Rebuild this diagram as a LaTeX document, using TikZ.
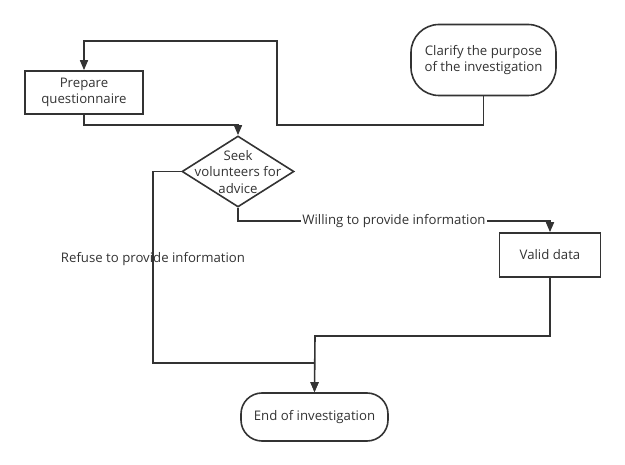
\documentclass[tikz,border=0pt]{standalone}
\usepackage{fontspec}
\setmainfont{Open Sans}
\usetikzlibrary{shapes.geometric,arrows.meta}
\definecolor{ln}{HTML}{333333}
\tikzset{
  x=1pt,y=-1pt,
  every node/.style={font=\fontsize{13.2}{16.5}\selectfont, text=ln},
  box/.style={draw=ln, line width=1.6pt, minimum width=118pt, minimum height=43pt, align=center, inner sep=0pt},
  term/.style={draw=ln, line width=1.6pt, rounded corners=28pt, align=center, inner sep=0pt},
  dia/.style={draw=ln, line width=1.6pt, diamond, minimum width=112pt, minimum height=71pt, inner sep=0pt},
  conn/.style={draw=ln, line width=1.6pt},
  arr/.style={conn, -{Triangle[length=10pt,width=8pt]}},
  lbl/.style={fill=white, inner sep=1pt},
}
\begin{document}
\begin{tikzpicture}
\useasboundingbox (0,0) rectangle (625,465);
\node[box] (prep) at (84,92.5) {Prepare\\questionnaire};
\node[term, minimum width=145pt, minimum height=71pt] (clar) at (483.5,60) {Clarify the purpose\\of the investigation};
\node[dia] (seek) at (238,171.5) {};
\node[align=center, inner sep=0pt] (seektxt) at (238,172) {Seek\\volunteers for\\advice};
\node[box, minimum width=101pt, minimum height=44pt] (valid) at (550,255) {Valid data};
\node[term, minimum width=147pt, minimum height=48pt, rounded corners=21pt] (end) at (314.5,417) {End of investigation};

\coordinate (c1) at (277,125);
\coordinate (c2) at (277,41);
\coordinate (c4) at (153,363);
\coordinate (c5) at (315,336);

\draw[arr] (clar.south) |- (c1) -- (c2) -| (prep.north);
\draw[arr] (prep.south) -- ++(0,10) -| (seek.north);
\draw[arr] (seek.south) -- ++(0,13) -| (valid.north) node[lbl, pos=0.25] (lwill) {Willing to provide information};
\draw[arr] (seek.west) -| (c4) -| (end.north);
\draw[arr] (valid.south) |- (c5) -- (end.north);
\node[inner sep=0pt] (lref) at (153,259) {Refuse to provide information};
\end{tikzpicture}
\end{document}
